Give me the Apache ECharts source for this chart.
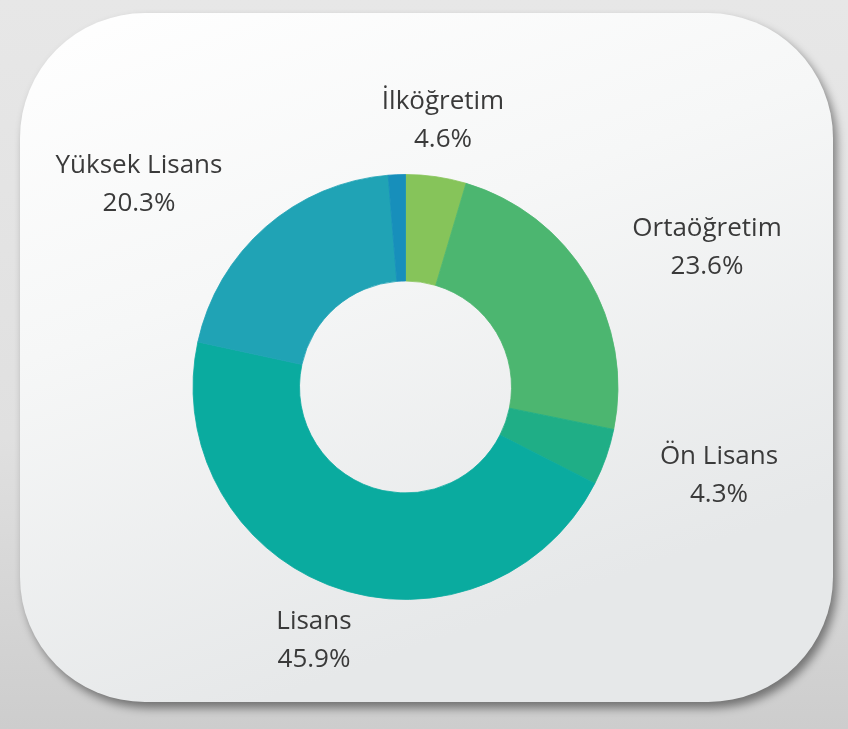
<!DOCTYPE html>
<html>
<head>
<meta charset="utf-8">
<script src="https://cdn.jsdelivr.net/npm/echarts@6/dist/echarts.min.js"></script>
<style>
  html, body { margin: 0; padding: 0; }
  #chart-container { width: 848px; height: 729px; }
</style>
</head>
<body>
<div id="chart-container"></div>
<script>
// data
var categories = ["İlköğretim", "Ortaöğretim", "Ön Lisans", "Lisans", "Yüksek Lisans", "Doktora"];
var shares = [4.6, 23.6, 4.3, 45.9, 20.3, 1.3];
var labelled = [true, true, true, true, true, false];

// look
var sliceColors = ["#86c45a", "#4cb670", "#1fae86", "#0aab9f", "#20a3b5", "#178fbb"];
var labelSpots = [[443, 121], [707, 248], [719, 476], [314, 641], [139, 185], null]; // label centres

var dom = document.getElementById("chart-container");
var myChart = echarts.init(dom, null, { renderer: "canvas" });

var pieData = categories.map(function (name, i) {
  return {
    name: name,
    value: shares[i],
    // border in the slice colour hides the seams between slices
    itemStyle: { color: sliceColors[i], borderColor: sliceColors[i], borderWidth: 0.8 },
    label: { show: labelled[i] },
  };
});

var option = {
  backgroundColor: new echarts.graphic.LinearGradient(0, 0, 0, 1, [
    { offset: 0, color: "#e7e7e7" },
    { offset: 0.6, color: "#e0e0e0" },
    { offset: 1, color: "#cdcdcd" },
  ]),
  graphic: {
    elements: [
      {
        type: "rect",
        z: -10,
        shape: { x: 20, y: 13, width: 813, height: 689, r: 125 },
        style: {
          fill: new echarts.graphic.LinearGradient(0, 0, 0.3, 1, [
            { offset: 0, color: "#ffffff" },
            { offset: 0.45, color: "#f6f7f7" },
            { offset: 1, color: "#e6e8e9" },
          ]),
          shadowBlur: 10,
          shadowOffsetX: 4,
          shadowOffsetY: 6,
          shadowColor: "rgba(0,0,0,0.45)",
        },
        silent: true,
      },
    ],
  },
  series: [
    {
      type: "pie",
      center: [405.5, 387],
      radius: [106, 212.5],
      startAngle: 90,
      clockwise: true,
      avoidLabelOverlap: false,
      silent: true,
      data: pieData,
      label: {
        position: "outside",
        formatter: "{b}\n{c}%",
        color: "#3a3a3a",
        fontFamily: "Open Sans",
        fontSize: 26,
        lineHeight: 38,
        align: "center",
      },
      labelLine: { show: false },
      labelLayout: function (params) {
        var p = labelSpots[params.dataIndex];
        if (!p) return {};
        return { x: p[0], y: p[1], align: "center", verticalAlign: "middle" };
      },
      emphasis: { disabled: true },
    },
  ],
};

myChart.setOption(option);
</script>
</body>
</html>
